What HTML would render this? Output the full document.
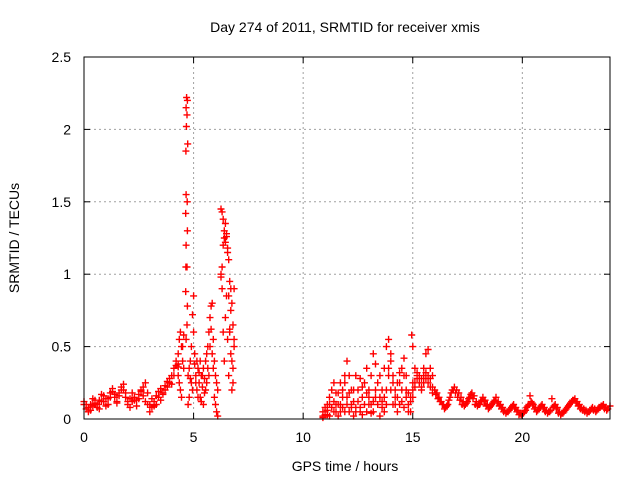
<!DOCTYPE html>
<html><head><meta charset="utf-8"><style>
body{margin:0;background:#fff}
text{font-family:"Liberation Sans",sans-serif;font-size:14px;fill:#000}
</style></head><body>
<svg id="chart" width="640" height="480">
<rect width="640" height="480" fill="#fff"/>
<g id="grid"></g>
<g id="marks"></g>
<rect x="84" y="57" width="526" height="362" fill="none" stroke="#000" stroke-width="1"/>
<g id="axes"></g>
<text x="345" y="32" text-anchor="middle">Day 274 of 2011, SRMTID for receiver xmis</text>
<text x="345" y="471" text-anchor="middle">GPS time / hours</text>
<text x="0" y="0" transform="translate(19,238) rotate(-90)" text-anchor="middle">SRMTID / TECUs</text>
</svg>
<script>
const xTicks=[0,5,10,15,20];
const yTicks=[0,0.5,1,1.5,2,2.5];
const yTickLabels=["0","0.5","1","1.5","2","2.5"];
// regular tracks: start hour, step hour, values
const trackStarts=[0,0,3.0,3.0,4.75,4.75,5.55,5.55,6.25,6.25,6.25,10.9,10.9,10.9,16.0,16.05];
const trackSteps=[0.1,0.1,0.1,0.1,0.05,0.05,0.05,0.05,0.05,0.05,0.05,0.1,0.1,0.1,0.1,0.1];
const trackValues=[
[.12,.1,.08,.06,.09,.13,.1,.07,.12,.16,.14,.1,.15,.19,.17,.12,.18,.22,.2,.15,.1,.08,.12,.15,.13,.17,.2,.16,.12,.1],
[.1,.07,.05,.1,.14,.11,.08,.13,.17,.12,.09,.14,.18,.21,.15,.11,.16,.2,.24,.18,.12,.14,.18,.13,.09,.14,.19,.22,.25,.18],
[.05,.08,.12,.1,.15,.13,.18,.2,.22,.25,.24,.3,.37,.38],
[.1,.14,.09,.16,.19,.21,.17,.23,.26,.28,.3,.35,.4,.36],
[.3,.15,.4,.5,.72,.85,.45,.3,.2,.35,.25,.15,.3,.22,.35,.18],
[.1,.35,.28,.25,.2,.6,.38,.25,.4,.15,.32,.4,.12,.3,.1,.28],
[.4,.45,.5,.6,.7,.78,.8,.55,.4,.3,.25,.2],
[.2,.25,.35,.3,.5,.62,.45,.35,.15,.1,.05,.02],
[1.45,1.43,1.38,1.3,1.22,1.26,1.18,1.1,.95,.9,.8,.65,.5],
[.98,.9,.6,.4,.7,.85,.55,.3,.6,.75,.4,.25,.9],
[1.0,1.05,1.2,1.25,1.35,1.28,1.15,.85,.62,.45,.2,.35,.55],
[.02,.05,.1,.15,.2,.25,.18,.1,.05,.15,.3,.4,.3,.2,.12,.08,.2,.28,.22,.1,.05,.15,.3,.45,.38,.25,.15,.2,.35,.5,.55,.4,.3,.2,.15,.25,.35,.42,.3,.18,.12,.25,.35,.3,.28,.22,.35,.45,.48,.35,.3],
[.05,.08,.03,.1,.2,.12,.05,.02,.1,.2,.25,.15,.05,.1,.2,.3,.12,.05,.15,.25,.35,.2,.1,.05,.15,.25,.3,.12,.05,.2,.35,.45,.25,.1,.05,.1,.2,.3,.15,.05,.15,.2,.25,.32,.3,.28,.3,.32,.25,.28,.22],
[.01,.03,.06,.02,.08,.05,.1,.18,.25,.08,.05,.1,.18,.08,.02,.05,.12,.08,.03,.1,.18,.1,.04,.12,.2,.1,.02,.08,.15,.1,.3,.2,.1,.15,.25,.32,.12,.08,.2,.1,.05,.15,.22,.28,.25,.2,.25,.28,.3,.22,.18],
[.2,.18,.15,.12,.1,.08,.1,.15,.2,.22,.2,.18,.15,.12,.1,.12,.15,.18,.16,.12,.1,.12,.15,.13,.1,.08,.1,.12,.15,.12,.1,.08,.06,.05,.06,.08,.1,.08,.06,.04,.04,.05,.08,.1,.12,.1,.08,.06,.08,.1,.08,.06,.05,.06,.08,.1,.08,.05,.04,.05,.07,.09,.11,.13,.14,.12,.1,.08,.07,.06,.05,.06,.08,.07,.06,.08,.09,.1,.08,.07,.09],
[.17,.14,.12,.1,.07,.09,.13,.18,.2,.18,.15,.13,.1,.09,.11,.14,.17,.14,.1,.09,.1,.13,.12,.09,.07,.09,.11,.13,.11,.09,.07,.05,.04,.05,.07,.09,.07,.05,.03,.03,.04,.06,.09,.16,.11,.07,.05,.07,.09,.07,.05,.04,.05,.14,.09,.07,.04,.03,.04,.06,.08,.1,.12,.13,.11,.09,.07,.06,.05,.04,.05,.07,.06,.05,.07,.08,.09,.07,.06]
];
// irregular points (spike and cluster)
const extraTimes=[4.3,4.35,4.4,4.45,4.5,4.55,4.3,4.35,4.4,4.45,4.5,4.55,4.68,4.72,4.66,4.70,4.67,4.73,4.65,4.66,4.71,4.64,4.72,4.66,4.65,4.70,4.64,4.72,4.70,4.66,14.95,15.0];
const extraValues=[.45,.55,.6,.5,.4,.35,.3,.25,.2,.15,.5,.58,2.22,2.2,2.15,2.1,2.02,1.9,1.85,1.55,1.5,1.42,1.3,1.2,1.05,1.05,.88,.78,.65,.55,.58,.5];

const X0=84,X1=610,Y0=419,Y1=57,XMAX=24,YMAX=2.5;
const sx=v=>X0+(X1-X0)*v/XMAX;
const sy=v=>Y0-(Y0-Y1)*v/YMAX;
const NS="http://www.w3.org/2000/svg";
const grid=document.getElementById('grid'),axes=document.getElementById('axes'),marks=document.getElementById('marks');
function line(p,x1,y1,x2,y2,st,dash){const l=document.createElementNS(NS,'line');l.setAttribute('x1',x1);l.setAttribute('y1',y1);l.setAttribute('x2',x2);l.setAttribute('y2',y2);l.setAttribute('stroke',st);if(dash)l.setAttribute('stroke-dasharray',dash);p.appendChild(l);return l;}
function txt(p,x,y,s,a){const t=document.createElementNS(NS,'text');t.setAttribute('x',x);t.setAttribute('y',y);t.setAttribute('text-anchor',a);t.textContent=s;p.appendChild(t);return t;}
xTicks.forEach(v=>{const x=sx(v);
 if(v>0){const g=line(grid,x,Y1,x,Y0,'#a0a0a0','2,3');}
 line(axes,x,Y0,x,Y0-6,'#000');line(axes,x,Y1,x,Y1+6,'#000');
 const t=txt(axes,x,442,String(v),'middle');
 
 
});
yTicks.forEach((v,i)=>{const y=sy(v);
 if(v>0&&v<YMAX){const g=line(grid,X0,y,X1,y,'#a0a0a0','2,3');}
 line(axes,X0,y,X0+6,y,'#000');line(axes,X1,y,X1-6,y,'#000');
 const t=txt(axes,71,y+5,yTickLabels[i],'end');
 
 
});
let d='';
function plus(t,v){const x=sx(t),y=sy(v);d+=`M${(x-3.5).toFixed(1)} ${y.toFixed(1)}h7M${x.toFixed(1)} ${(y-3.5).toFixed(1)}v7`;}
trackValues.forEach((vals,k)=>vals.forEach((v,i)=>plus(trackStarts[k]+trackSteps[k]*i,v)));
extraTimes.forEach((t,i)=>plus(t,extraValues[i]));
const p=document.createElementNS(NS,'path');
p.setAttribute('d',d);p.setAttribute('stroke','#ff0000');p.setAttribute('stroke-width','1.4');p.setAttribute('fill','none');


marks.appendChild(p);
</script>
</body></html>
